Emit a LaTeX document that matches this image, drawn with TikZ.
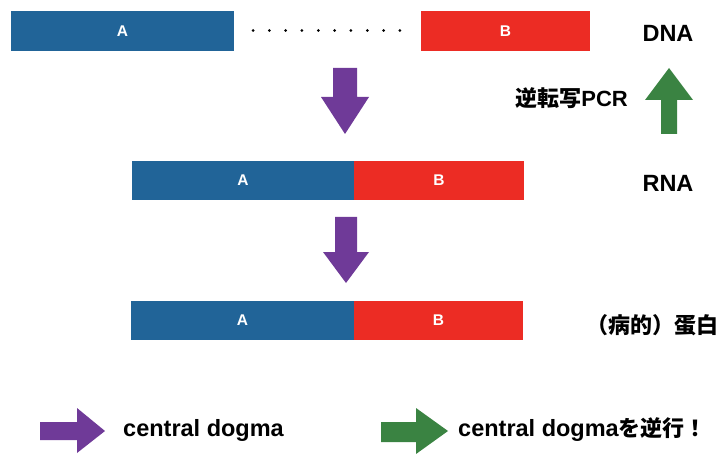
\documentclass[tikz,border=0pt]{standalone}
\usepackage{fontspec}
\setmainfont{Liberation Sans}
\newfontfamily\cjk{Noto Sans CJK JP}
\definecolor{barblue}{RGB}{33,100,152}
\definecolor{barred}{RGB}{236,44,36}
\definecolor{arrpurple}{RGB}{111,58,152}
\definecolor{arrgreen}{RGB}{58,131,66}
\tikzset{
  bar/.style={rectangle, inner sep=0pt, text=white, font=\bfseries\fontsize{15.5}{15.5}\selectfont},
  bluebar/.style={bar, fill=barblue},
  redbar/.style={bar, fill=barred},
  lbl/.style={inner sep=0pt, text=black, font=\bfseries\fontsize{23.5}{23.5}\selectfont},
  jlbl/.style={inner sep=0pt, text=black, font=\fontsize{22}{22}\selectfont},
  dotmark/.style={fill=black, draw=none},
}
\begin{document}
\begin{tikzpicture}[x=1pt, y=-1pt]
\useasboundingbox (0,0) rectangle (722,454);
% DNA row
\node[bluebar, minimum width=223pt, minimum height=40pt] (dnaA) at (122.5,31) {A};
\node[redbar, minimum width=169pt, minimum height=40pt] (dnaB) at (505.5,31) {B};
\foreach \i in {0,...,9}{
  \fill[dotmark] ({253+\i*16.33},30.5) circle (1.5pt);
}
\node[lbl] (dna) at (668,33) {DNA};
% purple arrow 1
\fill[arrpurple] (333,68) -- (357,68) -- (357,97) -- (369,97) -- (345,134) -- (321,97) -- (333,97) -- cycle;
% green arrow
\fill[arrgreen] (661,134) -- (677,134) -- (677,100) -- (693,100) -- (669,68) -- (645,100) -- (661,100) -- cycle;
\node[jlbl, anchor=east] (rt) at (628,98) {{\cjk\bfseries 逆転写}{\bfseries PCR}};
% RNA row
\node[bluebar, minimum width=222pt, minimum height=39pt] (rnaA) at (243,180.5) {A};
\node[redbar, minimum width=170pt, minimum height=39pt] (rnaB) at (439,180.5) {B};
\node[lbl] (rna) at (668,183) {RNA};
% purple arrow 2
\fill[arrpurple] (335,217) -- (357,217) -- (357,252) -- (369,252) -- (346,283) -- (323,252) -- (335,252) -- cycle;
% protein row
\node[bluebar, minimum width=223pt, minimum height=39pt] (proA) at (242.5,320.5) {A};
\node[redbar, minimum width=169pt, minimum height=39pt] (proB) at (438.5,320.5) {B};
\node[jlbl] (pro) at (652,325) {\cjk\bfseries （病的）蛋白};
% legend
\fill[arrpurple] (40,422) -- (77,422) -- (77,408) -- (105,431) -- (77,453) -- (77,440) -- (40,440) -- cycle;
\node[lbl, anchor=west] (cd) at (123,430) {central dogma};
\fill[arrgreen] (381,422) -- (416,422) -- (416,408) -- (448,431) -- (416,454) -- (416,442) -- (381,442) -- cycle;
\node[lbl, anchor=west] (cdr) at (458,430) {central dogma{\cjk\fontsize{22}{22}\selectfont を逆行！}};
\end{tikzpicture}
\end{document}
